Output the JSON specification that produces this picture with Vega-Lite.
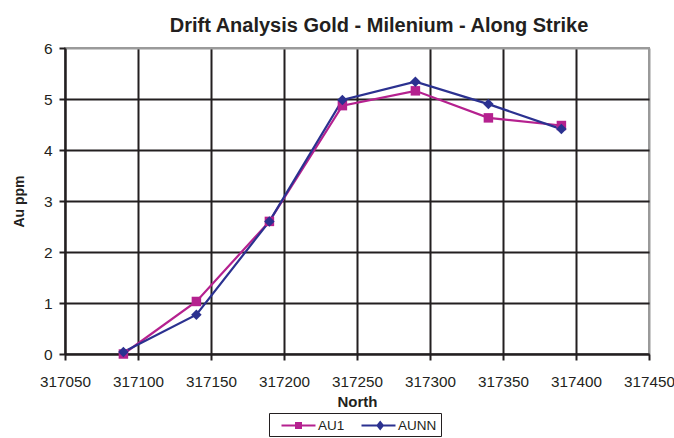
{
  "$schema": "https://vega.github.io/schema/vega-lite/v6.json",
  "width": 584,
  "height": 306,
  "autosize": {"type": "none"},
  "padding": {"left": 65, "top": 48, "right": 25, "bottom": 84},
  "background": "white",
  "title": {
    "text": "Drift Analysis Gold - Milenium - Along Strike",
    "font": "Liberation Sans",
    "fontSize": 20,
    "fontWeight": "bold",
    "color": "#231f20",
    "anchor": "middle",
    "dx": 22,
    "offset": 5
  },
  "config": {
    "font": "Liberation Sans",
    "view": {"stroke": "#9a9a9a", "strokeWidth": 2}
  },
  "data": {
    "values": [
      {"North": 317090, "Au": 0.0, "Series": "AU1"},
      {"North": 317140, "Au": 1.03, "Series": "AU1"},
      {"North": 317190, "Au": 2.6, "Series": "AU1"},
      {"North": 317240, "Au": 4.87, "Series": "AU1"},
      {"North": 317290, "Au": 5.16, "Series": "AU1"},
      {"North": 317340, "Au": 4.63, "Series": "AU1"},
      {"North": 317390, "Au": 4.48, "Series": "AU1"},
      {"North": 317090, "Au": 0.04, "Series": "AUNN"},
      {"North": 317140, "Au": 0.77, "Series": "AUNN"},
      {"North": 317190, "Au": 2.6, "Series": "AUNN"},
      {"North": 317240, "Au": 4.98, "Series": "AUNN"},
      {"North": 317290, "Au": 5.34, "Series": "AUNN"},
      {"North": 317340, "Au": 4.9, "Series": "AUNN"},
      {"North": 317390, "Au": 4.41, "Series": "AUNN"}
    ]
  },
  "encoding": {
    "x": {
      "field": "North",
      "type": "quantitative",
      "title": "North",
      "scale": {"domain": [317050, 317450], "nice": false, "zero": false},
      "axis": {
        "values": [317050, 317100, 317150, 317200, 317250, 317300, 317350, 317400, 317450],
        "format": "d",
        "labelOverlap": false,
        "labelFlush": false,
        "grid": true,
        "gridColor": {"condition": {"test": "datum.value === 317450", "value": "#9a9a9a"}, "value": "#231f20"},
        "gridWidth": 2,
        "gridOpacity": 1,
        "domainColor": "#231f20",
        "domainWidth": 2,
        "tickColor": "#231f20",
        "tickWidth": 2,
        "tickSize": 6,
        "labelFontSize": 15.25,
        "labelColor": "#231f20",
        "labelPadding": 14,
        "titleFontSize": 15,
        "titleFontWeight": "bold",
        "titleColor": "#231f20",
        "titlePadding": 5
      }
    },
    "y": {
      "field": "Au",
      "type": "quantitative",
      "title": "Au ppm",
      "scale": {"domain": [0, 6], "nice": false},
      "axis": {
        "values": [0, 1, 2, 3, 4, 5, 6],
        "grid": true,
        "gridColor": {"condition": {"test": "datum.value === 6", "value": "#9a9a9a"}, "value": "#231f20"},
        "gridWidth": 2,
        "gridOpacity": 1,
        "domainColor": "#231f20",
        "domainWidth": 2,
        "tickColor": "#231f20",
        "tickWidth": 2,
        "tickSize": 6,
        "labelFontSize": 15.5,
        "labelColor": "#231f20",
        "labelPadding": 7,
        "titleFontSize": 14,
        "titleFontWeight": "bold",
        "titleColor": "#231f20",
        "titlePadding": 17
      }
    },
    "color": {
      "field": "Series",
      "type": "nominal",
      "scale": {"domain": ["AU1", "AUNN"], "range": ["#b5218f", "#2b3190"]},
      "legend": {
        "title": null,
        "orient": "none",
        "legendX": 204,
        "legendY": 365,
        "direction": "horizontal",
        "strokeColor": "#231f20",
        "padding": 4,
        "labelFontSize": 13.5,
        "labelColor": "#231f20",
        "labelOffset": 11,
        "symbolSize": 289,
        "symbolOffset": 17,
        "columnPadding": 8,
        "encode": {
          "symbols": {
            "update": {
              "shape": {"signal": "datum.value === 'AU1' ? 'M-2,-0.11L2,-0.11L2,0.11L-2,0.11Z M-0.41,-0.41L0.41,-0.41L0.41,0.41L-0.41,0.41Z' : 'M-2,-0.11L2,-0.11L2,0.11L-2,0.11Z M0.2,-0.59L0.67,0L0.2,0.59L-0.27,0Z'"},
              "fill": {"signal": "datum.value === 'AU1' ? '#b5218f' : '#2b3190'"},
              "fillOpacity": {"value": 1},
              "strokeWidth": {"value": 0}
            }
          }
        }
      }
    }
  },
  "layer": [
    {
      "mark": {"type": "line", "strokeWidth": 2.2},
      "encoding": {"detail": {"field": "Series"}}
    },
    {
      "transform": [{"filter": "datum.Series === 'AU1'"}],
      "mark": {"type": "point", "shape": "square", "filled": true, "opacity": 1, "size": 90}
    },
    {
      "transform": [{"filter": "datum.Series === 'AUNN'"}],
      "mark": {"type": "point", "shape": "diamond", "filled": true, "opacity": 1, "size": 110}
    }
  ]
}
